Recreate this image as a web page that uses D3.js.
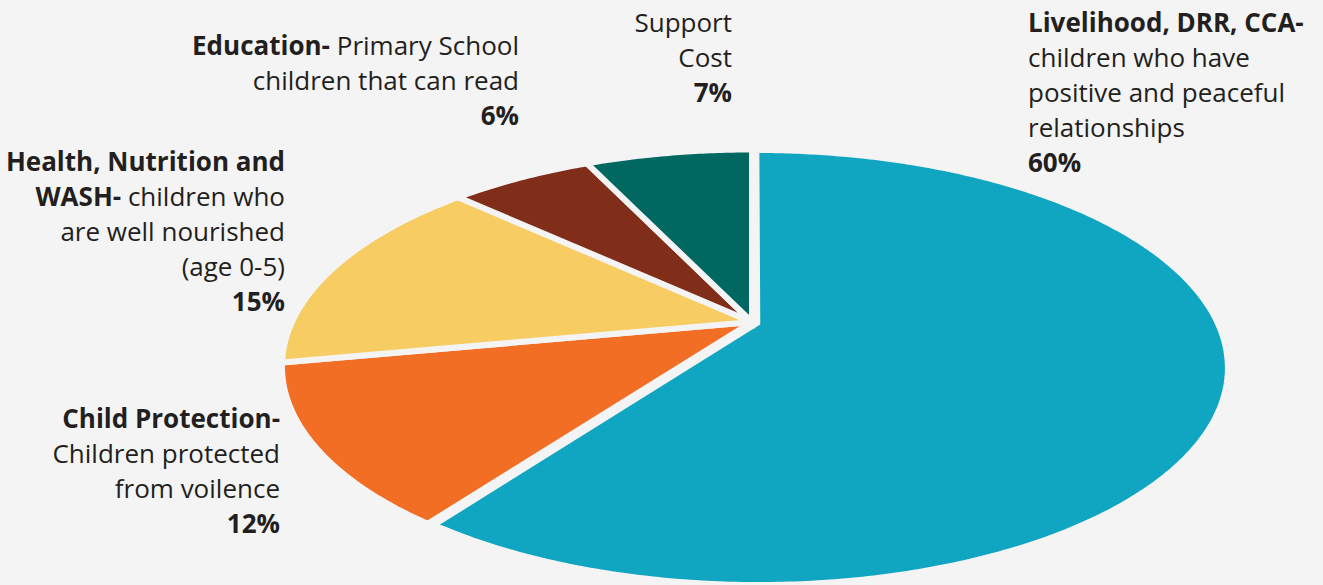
<!DOCTYPE html>
<html>
<head>
<meta charset="utf-8">
<script src="https://cdn.jsdelivr.net/npm/d3@7"></script>
<style>
  html, body { margin: 0; padding: 0; background: #f4f4f4; }
  svg { display: block; }
</style>
</head>
<body>
<svg width="1323" height="585"></svg>
<script>
// Данные диаграммы (по часовой стрелке, начиная сверху)
const categories = ["Livelihood, DRR, CCA", "Child Protection", "Health, Nutrition and WASH", "Education", "Support Cost"];
const shares = [60, 12, 15, 6, 7];
const colors = ["#10a5c1", "#f26e25", "#f7cc62", "#802e1a", "#006761"];

// Подписи: строки, каждая строка — куски [текст, жирный]
const labelLines = [
    [[["Livelihood, DRR, CCA-", true]], [["children who have", false]], [["positive and peaceful", false]], [["relationships", false]], [["60%", true]]],
    [[["Child Protection-", true]], [["Children protected", false]], [["from voilence", false]], [["12%", true]]],
    [[["Health, Nutrition and", true]], [["WASH-", true], [" children who", false]], [["are well nourished", false]], [["(age 0-5)", false]], [["15%", true]]],
    [[["Education-", true], [" Primary School", false]], [["children that can read", false]], [["6%", true]]],
    [[["Support", false]], [["Cost", false]], [["7%", true]]]
];

// Расположение подписей
const labelPos = [
    { x: 1028, y: 32, anchor: "start" },
    { x: 280, y: 428, anchor: "end" },
    { x: 285, y: 171, anchor: "end" },
    { x: 519, y: 55, anchor: "end" },
    { x: 732, y: 32, anchor: "end" }
];

const svg = d3.select("svg");
const bg = "#f4f4f4";

// Перспективная проекция наклонённого круга
const persp = { x0: 752, y0: 322, a: 460, b: 208, k: 0.2055 };
function project(u, v) {
    const d = 1 + persp.k * v;
    return [persp.x0 + persp.a * u / d, persp.y0 - persp.b * v / d];
}

const pie = d3.pie().sort(null).value(d => d)(shares);
const explode = [0.012, 0, 0, 0, 0];
const line = d3.line();

function slicePath(p, i) {
    const mid = (p.startAngle + p.endAngle) / 2;
    const ou = explode[i] * Math.sin(mid), ov = explode[i] * Math.cos(mid);
    const pts = [project(ou, ov)];
    const steps = Math.max(8, Math.ceil((p.endAngle - p.startAngle) / 0.01));
    for (let s = 0; s <= steps; s++) {
        const t = p.startAngle + (p.endAngle - p.startAngle) * s / steps;
        pts.push(project(ou + Math.sin(t), ov + Math.cos(t)));
    }
    return line(pts) + "Z";
}

svg.selectAll(".slice")
    .data(pie)
    .enter()
    .append("path")
    .attr("class", "slice")
    .attr("d", (d, i) => slicePath(d, i))
    .attr("fill", (d, i) => colors[i])
    .attr("stroke", bg)
    .attr("stroke-width", 6)
    .attr("stroke-linejoin", "miter");

// Подписи
const lineH = 35;
labelLines.forEach((lines, i) => {
    const pos = labelPos[i];
    const t = svg.append("text")
        .attr("text-anchor", pos.anchor)
        .style("font-family", "'Open Sans', sans-serif")
        .style("font-size", "26px")
        .attr("fill", "#231f20");
    lines.forEach((segs, j) => {
        segs.forEach((seg, k) => {
            const ts = t.append("tspan")
                .text(seg[0])
                .style("font-weight", seg[1] ? "bold" : "normal");
            if (k === 0) ts.attr("x", pos.x).attr("y", pos.y + j * lineH);
        });
    });
});
</script>
</body>
</html>
